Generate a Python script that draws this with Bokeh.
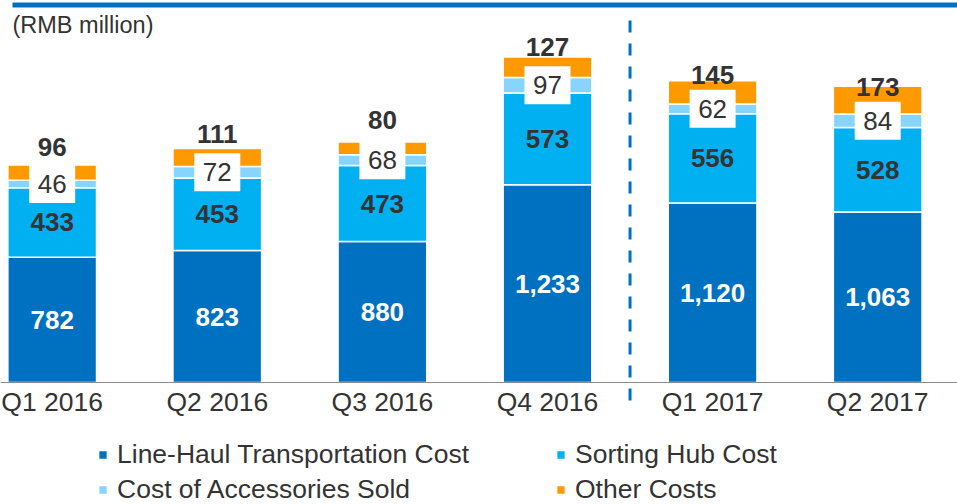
from bokeh.plotting import figure
from bokeh.models import (Range1d, FixedTicker, Legend, LegendItem, Label,
                          BoxAnnotation, ColumnDataSource)
from bokeh.core.properties import value
from bokeh.embed import file_html
from bokeh.resources import INLINE

# ---------------- data ----------------
quarters = ["Q1 2016", "Q2 2016", "Q3 2016", "Q4 2016", "Q1 2017", "Q2 2017"]
line_haul = [782, 823, 880, 1233, 1120, 1063]
sorting_hub = [433, 453, 473, 573, 556, 528]
accessories = [46, 72, 68, 97, 62, 84]
other_costs = [96, 111, 80, 127, 145, 173]
series_names = ["Line-Haul Transportation Cost", "Sorting Hub Cost",
                "Cost of Accessories Sold", "Other Costs"]
unit_label = "(RMB million)"

# ---------------- style ----------------
COLORS = ["#0070C0", "#00B0F0", "#87D5FF", "#FF9900"]
DARK = "#333333"
FONT = "Liberation Sans"
W, H = 957, 504
PLOT_PX = 382                 # pixels from frame top to the baseline
PX = 0.1603                   # pixels per data unit
Y_END = PLOT_PX / PX
Y_START = -(H - PLOT_PX) / PX
FS = "26px"

x = list(range(len(quarters)))
lh_top = [a for a in line_haul]
sh_top = [a + b for a, b in zip(lh_top, sorting_hub)]
ac_top = [a + b for a, b in zip(sh_top, accessories)]
totals = [a + b for a, b in zip(ac_top, other_costs)]

src = ColumnDataSource(dict(
    x=x,
    line_haul=line_haul, sorting_hub=sorting_hub,
    accessories=accessories, other=other_costs,
    y_lh=[v / 2 for v in line_haul],
    y_sh=[a + b / 2 for a, b in zip(lh_top, sorting_hub)],
    y_ac=[a + b / 2 for a, b in zip(sh_top, accessories)],
    y_ot=[t - 1.54 * o + 260 for t, o in zip(totals, other_costs)],
    t_lh=[f"{v:,}" for v in line_haul],
    t_sh=[f"{v:,}" for v in sorting_hub],
    t_ac=[f"{v:,}" for v in accessories],
    t_ot=[f"{v:,}" for v in other_costs],
))

p = figure(width=W, height=H, output_backend="svg", toolbar_location=None,
           x_range=Range1d(-0.3131, 5.4834), y_range=Range1d(Y_START, Y_END),
           y_axis_location=None,
           min_border_left=0, min_border_right=0, min_border_top=0,
           min_border_bottom=0)
p.grid.visible = False
p.outline_line_color = None
p.background_fill_color = "white"
p.border_fill_color = "white"

stackers = ["line_haul", "sorting_hub", "accessories", "other"]
rs = p.vbar_stack(stackers, x="x", width=0.537, fill_color=COLORS,
                  line_color="white", line_width=1.5, source=src)

# value labels
p.text(x="x", y="y_lh", text="t_lh", source=src, text_align="center",
       text_baseline="middle", text_font=value(FONT), text_font_size=FS,
       text_font_style="bold", text_color="white")
p.text(x="x", y="y_sh", text="t_sh", source=src, text_align="center",
       text_baseline="middle", text_font=value(FONT), text_font_size=FS,
       text_font_style="bold", text_color=DARK)
p.rect(x="x", y="y_ac", width=46, height=38, width_units="screen",
       height_units="screen", source=src, fill_color="white", line_color=None)
p.text(x="x", y="y_ac", text="t_ac", source=src, text_align="center",
       text_baseline="middle", text_font=value(FONT), text_font_size=FS,
       text_color=DARK)
p.text(x="x", y="y_ot", text="t_ot", source=src, text_align="center",
       text_baseline="middle", text_font=value(FONT), text_font_size=FS,
       text_font_style="bold", text_color=DARK)

# divider between 2016 and 2017
div_x = (x[3] + x[4]) / 2
p.segment(x0=[div_x], y0=[Y_END - 20 / PX], x1=[div_x], y1=[-26 / PX],
          line_color="#0070C0", line_width=3, line_dash="12 11")

# top rule
p.add_layout(BoxAnnotation(left=12, left_units="screen",
                           bottom=Y_END - 7 / PX, top=Y_END - 2 / PX,
                           fill_color="#0070C0", fill_alpha=1,
                           line_color=None))

# unit label
p.add_layout(Label(x=12, x_units="screen", y=Y_END - 11 / PX, text=unit_label,
                   text_font=FONT, text_font_size="23.5px", text_color=DARK,
                   text_baseline="top", text_align="left"))

# x axis, pinned at the zero baseline inside the frame
p.xaxis.fixed_location = 0
p.xaxis.ticker = FixedTicker(ticks=x)
p.xaxis.major_label_overrides = {i: q for i, q in zip(x, quarters)}
p.xaxis.major_label_text_font = FONT
p.xaxis.major_label_text_font_size = "26.5px"
p.xaxis.major_label_text_color = DARK
p.xaxis.axis_line_color = "#8C8C8C"
p.xaxis.axis_line_width = 1.2
p.xaxis.major_tick_line_color = None
p.xaxis.minor_tick_line_color = None
p.xaxis.major_tick_out = 0
p.xaxis.major_tick_in = 0
p.xaxis.major_label_standoff = 4

legend = Legend(items=[LegendItem(label=n, renderers=[r]) for n, r in zip(series_names, rs)],
                orientation="horizontal", ncols=2, location=(97, -1),
                glyph_width=11, glyph_height=11, label_standoff=9,
                label_width=434, label_height=29, spacing=4,
                label_text_font=FONT, label_text_font_size="26.5px",
                label_text_color=DARK, border_line_color=None,
                background_fill_alpha=0, padding=0, margin=0)
p.add_layout(legend, "center")

open("out.html", "w").write(file_html(p, INLINE))
